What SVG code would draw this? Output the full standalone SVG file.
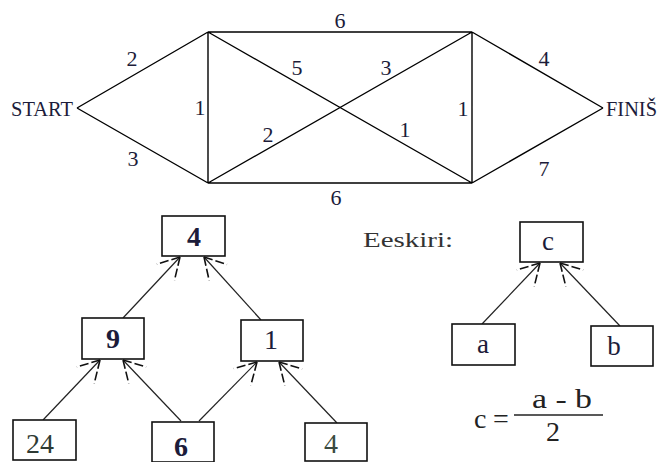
<svg xmlns="http://www.w3.org/2000/svg" width="661" height="462" viewBox="0 0 661 462">
<style>
.e{stroke:#000;stroke-width:1.4;fill:none}
.w{font-family:'Liberation Serif','DejaVu Serif',serif;fill:#1c1c3a}
.lab{font-size:22px;text-anchor:middle}
.box{fill:#fff;stroke:#111;stroke-width:1.6}
.num{font-size:28px;text-anchor:middle}
.lc{font-size:27px;text-anchor:middle}
.b{font-weight:bold}
.arr{stroke:#222;stroke-width:1.2;fill:none;marker-end:url(#fan)}
</style>
<defs>
<marker id="fan" markerUnits="userSpaceOnUse" markerWidth="40" markerHeight="40" refX="0" refY="0" orient="auto" overflow="visible">
<path d="M0,0 L-21,-12 M0,0 L-21,12" stroke="#111" stroke-width="1.6" fill="none" stroke-dasharray="9 3"/>
</marker>
</defs>
<rect width="661" height="462" fill="#fff"/>
<g id="connectors">
<path class="e" d="M77,108 L208,32 M77,108 L208,183 M208,32 L208,183 M208,32 L472,32 M208,183 L472,183 M208,32 L472,183 M208,183 L472,32 M472,32 L472,183 M472,32 L603,108 M472,183 L603,108"/>
<line class="arr" x1="123" y1="318" x2="180" y2="257"/>
<line class="arr" x1="261" y1="320" x2="204" y2="257"/>
<line class="arr" x1="43" y1="420" x2="100" y2="360"/>
<line class="arr" x1="181" y1="421" x2="123" y2="360"/>
<line class="arr" x1="199" y1="421" x2="257" y2="362"/>
<line class="arr" x1="337" y1="423" x2="279" y2="362"/>
<line class="arr" x1="482" y1="324" x2="540" y2="263"/>
<line class="arr" x1="620" y1="326" x2="560" y2="263"/>
</g>
<g id="edge-labels" class="w lab">
<text x="132" y="66">2</text>
<text x="133" y="166">3</text>
<text x="200" y="115">1</text>
<text x="297" y="75">5</text>
<text x="268" y="142">2</text>
<text x="340" y="28">6</text>
<text x="386" y="75">3</text>
<text x="463" y="116">1</text>
<text x="405" y="137">1</text>
<text x="544" y="66">4</text>
<text x="544" y="176">7</text>
<text x="336" y="205">6</text>
</g>
<g id="start"><text class="w" x="11" y="116" font-size="21" textLength="62" lengthAdjust="spacingAndGlyphs">START</text></g>
<g id="finish"><text class="w" x="606" y="116" font-size="21" textLength="51" lengthAdjust="spacingAndGlyphs">FINIŠ</text></g>
<g id="n-top"><rect class="box" x="162" y="216" width="63" height="40"/><text class="w num b" x="194" y="246">4</text></g>
<g id="n-9"><rect class="box" x="82" y="318" width="62" height="41"/><text class="w num b" x="113" y="348">9</text></g>
<g id="n-1"><rect class="box" x="241" y="320" width="62" height="41"/><text class="w num" x="271" y="349">1</text></g>
<g id="n-24"><rect class="box" x="13" y="420" width="63" height="40"/><text class="w num" x="40" y="453" style="fill:#2e3a34">24</text></g>
<g id="n-6"><rect class="box" x="152" y="422" width="62" height="40"/><text class="w num b" x="181" y="456">6</text></g>
<g id="n-4"><rect class="box" x="305" y="423" width="62" height="38"/><text class="w num" x="331" y="453" style="fill:#3a4a40">4</text></g>
<g id="legend-title"><text class="w" x="363" y="247" font-size="21" textLength="90" lengthAdjust="spacingAndGlyphs" style="fill:#333">Eeskiri:</text></g>
<g id="n-c"><rect class="box" x="520" y="222" width="63" height="40"/><text class="w lc" x="548" y="250">c</text></g>
<g id="n-a"><rect class="box" x="452" y="324" width="63" height="41"/><text class="w lc" x="483" y="353">a</text></g>
<g id="n-b"><rect class="box" x="591" y="326" width="62" height="40"/><text class="w lc" x="614" y="355">b</text></g>
<g id="formula" class="w" style="fill:#222">
<text x="474" y="428" font-size="28">c</text>
<text x="493" y="428" font-size="28">=</text>
<line x1="514" y1="415" x2="603" y2="415" stroke="#222" stroke-width="1.4"/>
<text x="532" y="408" font-size="28" textLength="60" lengthAdjust="spacingAndGlyphs">a - b</text>
<text x="553" y="441" font-size="28" text-anchor="middle">2</text>
</g>
</svg>
